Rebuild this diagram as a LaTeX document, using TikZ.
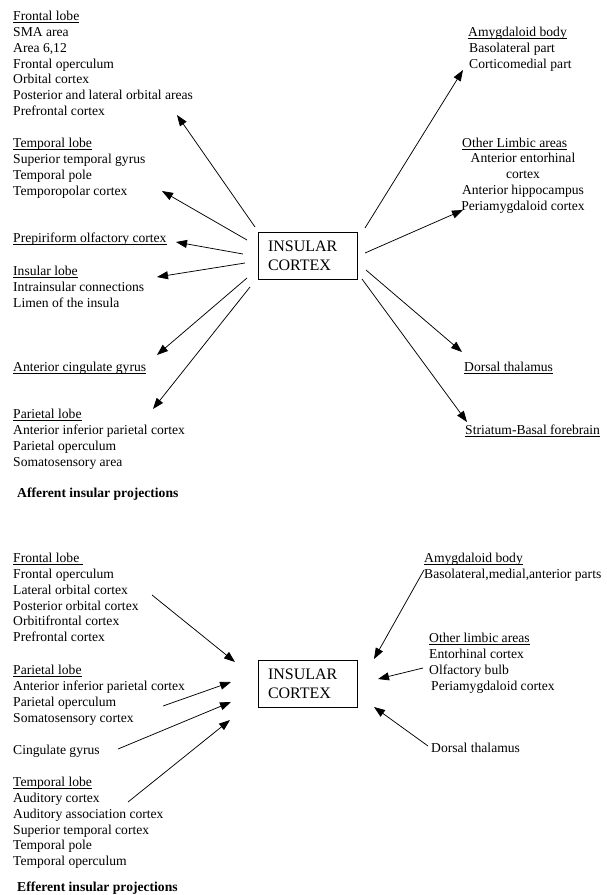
\documentclass[tikz,border=0pt]{standalone}
\usepackage{fontspec}
\setmainfont{Liberation Serif}
\usetikzlibrary{arrows.meta}
\newcommand\myul[1]{\setbox0\hbox{#1}\rlap{\rule[-1.6pt]{\wd0}{0.6pt}}\box0}
\newcommand\fst{\rule{0pt}{11pt}}
\begin{document}
\begin{tikzpicture}[x=1pt,y=-1pt,
  lbl/.style={anchor=north west, inner sep=0pt, align=left, font={\fontsize{13.6}{15.8}\selectfont}},
  clbl/.style={anchor=north, inner sep=0pt, align=center, font={\fontsize{13.6}{15.8}\selectfont}},
  ttl/.style={anchor=north west, inner sep=0pt, font={\fontsize{13.6}{15.8}\selectfont\bfseries}},
  box/.style={draw, line width=0.9pt, minimum width=99pt, minimum height=47pt, text width=79pt, inner xsep=10pt, inner ysep=0pt, align=left, font={\fontsize{16}{19}\selectfont}},
  arr/.style={-{Triangle[length=11pt,width=8pt]}, line width=0.75pt}]
\useasboundingbox (0,0) rectangle (607,895);
\fill[white] (0,0) rectangle (607,895);

% ---------- Afferent ----------
\node[box] (ic1) at (307.5,255.5) {INSULAR\\CORTEX};

\node[lbl] (fr1) at (13,9.5) {\fst\myul{Frontal lobe}\\SMA area\\Area 6,12\\Frontal operculum\\Orbital cortex\\Posterior and lateral orbital areas\\Prefrontal cortex};
\node[lbl] (te1) at (13,136.5) {\fst\myul{Temporal lobe}\\Superior temporal gyrus\\Temporal pole\\Temporopolar cortex};
\node[lbl] (pp1) at (13,231.5) {\fst\myul{Prepiriform olfactory cortex}};
\node[lbl] (in1) at (13,264.5) {\fst\myul{Insular lobe}\\Intrainsular connections\\Limen of the insula};
\node[lbl] (ac1) at (13,360.5) {\fst\myul{Anterior cingulate gyrus}};
\node[lbl] (pa1) at (13,407.5) {\fst\myul{Parietal lobe}\\Anterior inferior parietal cortex\\Parietal operculum\\Somatosensory area};
\node[ttl] (aff) at (17,486.5) {\fst Afferent insular projections};

\node[lbl] (am1) at (468,25.5) {\fst\myul{Amygdaloid body}\\\hspace{1pt}Basolateral part\\\hspace{1pt}Corticomedial part};
\node[lbl] (ol1h) at (462,136.5) {\fst\myul{Other Limbic areas}};
\node[clbl] (ol1) at (523,151.5) {\fst Anterior entorhinal\\cortex\\Anterior hippocampus\\Periamygdaloid cortex};
\node[lbl] (dt1) at (464,360.5) {\fst\myul{Dorsal thalamus}};
\node[lbl] (st1) at (465,423.5) {\fst\myul{Striatum-Basal forebrain}};

\coordinate (a1s) at (255,227); \coordinate (a1e) at (177,115);
\coordinate (a2s) at (247,240); \coordinate (a2e) at (162,191);
\coordinate (a3s) at (243,254); \coordinate (a3e) at (176,242);
\coordinate (a4s) at (245,263); \coordinate (a4e) at (157,277);
\coordinate (a5s) at (247,278); \coordinate (a5e) at (157,355);
\coordinate (a6s) at (250,287); \coordinate (a6e) at (153,409);
\coordinate (a7s) at (365,228); \coordinate (a7e) at (463,70);
\coordinate (a8s) at (365,253); \coordinate (a8e) at (463,210);
\coordinate (a9s) at (366,270); \coordinate (a9e) at (462,352);
\coordinate (a10s) at (362,279); \coordinate (a10e) at (467,422);
\foreach \i in {1,...,10} {\draw[arr] (a\i s) -- (a\i e);}

% ---------- Efferent ----------
\node[box] (ic2) at (307.5,684) {INSULAR\\CORTEX};

\node[lbl] (fr2) at (13,551.5) {\fst\myul{Frontal lobe\ }\\Frontal operculum\\Lateral orbital cortex\\Posterior orbital cortex\\Orbitifrontal cortex\\Prefrontal cortex};
\node[lbl] (pa2) at (13,663.5) {\fst\myul{Parietal lobe}\\Anterior inferior parietal cortex\\Parietal operculum\\Somatosensory cortex};
\node[lbl] (cg2) at (13,743.5) {\fst Cingulate gyrus};
\node[lbl] (te2) at (13,775.5) {\fst\myul{Temporal lobe}\\Auditory cortex\\Auditory association cortex\\Superior temporal cortex\\Temporal pole\\Temporal operculum};
\node[ttl] (eff) at (17,880) {\fst Efferent insular projections};

\node[lbl] (am2) at (424,551.5) {\fst\myul{Amygdaloid body}\\Basolateral,medial,anterior parts};
\node[lbl] (ol2) at (429,631.5) {\fst\myul{Other limbic areas}\\Entorhinal cortex\\Olfactory bulb\\\hspace{2pt}Periamygdaloid cortex};
\node[lbl] (dt2) at (431,741.5) {\fst Dorsal thalamus};

\coordinate (b1s) at (152,595); \coordinate (b1e) at (235,662);
\coordinate (b2s) at (163,706); \coordinate (b2e) at (231,682);
\coordinate (b3s) at (118,749); \coordinate (b3e) at (231,702);
\coordinate (b4s) at (128,802); \coordinate (b4e) at (230,720);
\coordinate (b5s) at (424,570); \coordinate (b5e) at (374,659);
\coordinate (b6s) at (423,668); \coordinate (b6e) at (378,679);
\coordinate (b7s) at (428,746); \coordinate (b7e) at (374,707);
\foreach \i in {1,...,7} {\draw[arr] (b\i s) -- (b\i e);}
\end{tikzpicture}
\end{document}
